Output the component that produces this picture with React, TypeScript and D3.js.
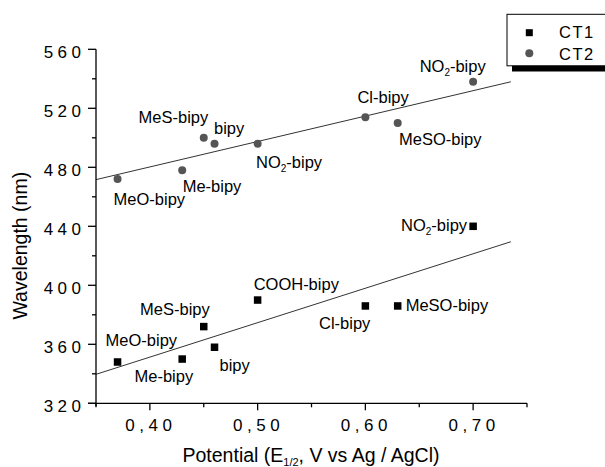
import React from "react";
import * as d3 from "d3";

// Half-wave potential (V vs Ag/AgCl) for each substituted bipyridine
const potentials = [0.37, 0.43, 0.45, 0.46, 0.5, 0.6, 0.63, 0.7];

// CT1 band maxima (nm)
const ct1Names = ["MeO-bipy", "Me-bipy", "MeS-bipy", "bipy", "COOH-bipy", "Cl-bipy", "MeSO-bipy", "NO2-bipy"];
const ct1Wavelengths = [348, 350, 372, 358, 390, 386, 386, 440];

// CT2 band maxima (nm)
const ct2Names = ["MeO-bipy", "Me-bipy", "MeS-bipy", "bipy", "NO2-bipy", "Cl-bipy", "MeSO-bipy", "NO2-bipy"];
const ct2Wavelengths = [472, 478, 500, 496, 496, 514, 510, 538];

const xTicksMajor = [0.4, 0.5, 0.6, 0.7];
const xTicksMinor = [0.35, 0.45, 0.55, 0.65, 0.75];
const yTicksMajor = [320, 360, 400, 440, 480, 520, 560];
const yTicksMinor = [340, 380, 420, 460, 500, 540];

// label placement relative to each marker: [dx, dy, anchor]
type Place = [number, number, "start" | "end"];
const ct1Places: Place[] = [
  [-12, -16, "start"],
  [11, 23, "end"],
  [6, -12, "end"],
  [5, 24, "start"],
  [-4, -10, "start"],
  [5, 23, "end"],
  [8, 5, "start"],
  [-6, 5, "end"],
];
const ct2Places: Place[] = [
  [-4, 26, "start"],
  [0.5, 21.5, "start"],
  [4.5, -14.5, "end"],
  [-0.5, -9.7, "start"],
  [-1.6, 24.6, "start"],
  [-8, -14.5, "start"],
  [1.3, 22, "start"],
  [12.6, -9.7, "end"],
];

const FONT = "'Liberation Sans', Arial, Helvetica, sans-serif";

function fit(xs: number[], ys: number[]) {
  const mx = d3.mean(xs)!;
  const my = d3.mean(ys)!;
  const sxy = d3.sum(xs, (x, i) => (x - mx) * (ys[i] - my));
  const sxx = d3.sum(xs, (x) => (x - mx) * (x - mx));
  const slope = sxy / sxx;
  return (x: number) => my + slope * (x - mx);
}

function Label({ name, x, y, anchor }: { name: string; x: number; y: number; anchor: "start" | "end" }) {
  const fs = 16.5;
  if (name.startsWith("NO2")) {
    return (
      <text x={x} y={y} textAnchor={anchor} fontSize={fs} fontFamily={FONT} fill="#000">
        NO
        <tspan fontSize={10} dy={4}>2</tspan>
        <tspan dy={-4}>-bipy</tspan>
      </text>
    );
  }
  return (
    <text x={x} y={y} textAnchor={anchor} fontSize={fs} fontFamily={FONT} fill="#000">
      {name}
    </text>
  );
}

export default function App() {
  const x = d3.scaleLinear().domain([0.35, 0.75]).range([96, 527]);
  const y = d3.scaleLinear().domain([320, 560]).range([403.3, 49.3]);

  const fit1 = fit(potentials, ct1Wavelengths);
  const fit2 = fit(potentials, ct2Wavelengths);
  const lineX = [0.35, 0.735];
  const line = d3.line<number>().x((d) => x(d));
  const path1 = line.y((d) => y(fit1(d)))(lineX)!;
  const path2 = line.y((d) => y(fit2(d)))(lineX)!;

  const fmt = (v: number) => v.toFixed(2).replace(".", ",");
  const y0 = y(320);

  return (
    <svg width={605} height={467} style={{ position: "absolute", left: 0, top: 0, background: "#fff" }}>
      <rect width={605} height={467} fill="#fff" />

      {/* fit lines */}
      <path d={path2} stroke="#333" strokeWidth={1} fill="none" />
      <path d={path1} stroke="#333" strokeWidth={1} fill="none" />

      {/* axes */}
      <line x1={96} x2={96} y1={y(560)} y2={y0 + 3} stroke="#000" strokeWidth={1.3} />
      <line x1={88} x2={x(0.75)} y1={y0} y2={y0} stroke="#000" strokeWidth={1.3} />
      {yTicksMajor.map((t) => (
        <g key={"ym" + t}>
          <line x1={88} x2={96} y1={y(t)} y2={y(t)} stroke="#000" strokeWidth={1.3} />
          <text
            x={85.5}
            y={y(t) + 8.6}
            textAnchor="end"
            fontSize={17}
            letterSpacing={4.5}
            fontFamily={FONT}
            fill="#000"
          >
            {t}
          </text>
        </g>
      ))}
      {yTicksMinor.map((t) => (
        <line key={"yn" + t} x1={92} x2={96} y1={y(t)} y2={y(t)} stroke="#000" strokeWidth={1.3} />
      ))}
      {xTicksMajor.map((t) => (
        <g key={"xm" + t}>
          <line x1={x(t)} x2={x(t)} y1={y0} y2={y0 + 7} stroke="#000" strokeWidth={1.3} />
          <text
            x={x(t) + 1}
            y={y0 + 28}
            textAnchor="middle"
            fontSize={17}
            letterSpacing={4.5}
            fontFamily={FONT}
            fill="#000"
          >
            {fmt(t)}
          </text>
        </g>
      ))}
      {xTicksMinor.map((t) => (
        <line key={"xn" + t} x1={x(t)} x2={x(t)} y1={y0} y2={y0 + 4} stroke="#000" strokeWidth={1.3} />
      ))}

      {/* axis titles */}
      <text x={311} y={461.7} textAnchor="middle" fontSize={19.5} fontFamily={FONT} fill="#000">
        Potential (E
        <tspan fontSize={11} dy={4}>1/2</tspan>
        <tspan dy={-4}>, V vs Ag / AgCl)</tspan>
      </text>
      <text
        transform="translate(26.5,245.7) rotate(-90)"
        textAnchor="middle"
        fontSize={19.5}
        fontFamily={FONT}
        fill="#000"
      >
        Wavelength (nm)
      </text>

      {/* CT2 points */}
      {potentials.map((p, i) => (
        <g key={"c2" + i}>
          <circle cx={x(p)} cy={y(ct2Wavelengths[i])} r={4} fill="#555" />
          <Label
            name={ct2Names[i]}
            x={x(p) + ct2Places[i][0]}
            y={y(ct2Wavelengths[i]) + ct2Places[i][1]}
            anchor={ct2Places[i][2]}
          />
        </g>
      ))}

      {/* CT1 points */}
      {potentials.map((p, i) => (
        <g key={"c1" + i}>
          <rect x={x(p) - 3.75} y={y(ct1Wavelengths[i]) - 3.75} width={7.5} height={7.5} fill="#000" />
          <Label
            name={ct1Names[i]}
            x={x(p) + ct1Places[i][0]}
            y={y(ct1Wavelengths[i]) + ct1Places[i][1]}
            anchor={ct1Places[i][2]}
          />
        </g>
      ))}

      {/* legend */}
      <rect x={512} y={20} width={110} height={51.5} fill="#000" />
      <rect x={507} y={14.3} width={110} height={51.5} fill="#fff" stroke="#000" strokeWidth={1} />
      <rect x={529.3 - 3.5} y={32.7 - 3.5} width={7} height={7} fill="#000" />
      <circle cx={529.3} cy={53.3} r={4} fill="#555" />
      <text x={559} y={38} fontSize={16.5} letterSpacing={1.5} fontFamily={FONT} fill="#000">
        CT1
      </text>
      <text x={559} y={59.5} fontSize={16.5} letterSpacing={1.5} fontFamily={FONT} fill="#000">
        CT2
      </text>
    </svg>
  );
}
